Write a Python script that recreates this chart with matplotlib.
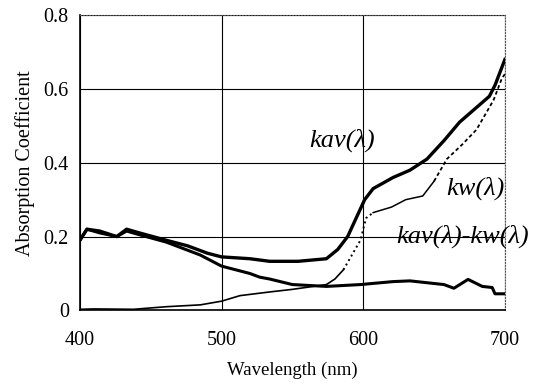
import numpy as np
import matplotlib.pyplot as plt

# wavelength (nm) and absorption values
wl_kav = [400, 405, 414, 426, 433, 442, 461, 476, 490, 500, 520, 534, 554, 574, 582,
          589, 595, 601, 607, 614, 621, 633, 645, 657, 668, 680, 689, 693, 696, 700]
kav = [0.19, 0.22, 0.215, 0.20, 0.22, 0.21, 0.19, 0.175, 0.155, 0.145, 0.14, 0.133,
       0.133, 0.14, 0.165, 0.20, 0.25, 0.30, 0.33, 0.345, 0.36, 0.38, 0.41, 0.46,
       0.51, 0.55, 0.58, 0.61, 0.64, 0.68]

wl_kw = [400, 410, 438, 461, 485, 500, 513, 534, 550, 574, 580, 586, 592, 598, 602,
         607, 620, 630, 642, 650, 659, 670, 680, 692, 698, 700]
kw = [0.003, 0.004, 0.003, 0.01, 0.015, 0.025, 0.04, 0.05, 0.057, 0.07, 0.085, 0.11,
      0.15, 0.19, 0.25, 0.265, 0.28, 0.30, 0.31, 0.35, 0.41, 0.45, 0.49, 0.57, 0.63, 0.64]

wl_diff = [400, 405, 414, 426, 433, 442, 461, 485, 500, 520, 527, 534, 550, 574, 598,
           621, 633, 645, 657, 664, 674, 684, 691, 693, 700]
diff = [0.19, 0.22, 0.21, 0.20, 0.215, 0.205, 0.185, 0.15, 0.12, 0.10, 0.09, 0.085,
        0.07, 0.065, 0.07, 0.078, 0.08, 0.075, 0.07, 0.06, 0.084, 0.065, 0.062, 0.045, 0.045]

serif = ['Liberation Serif', 'DejaVu Serif']

fig = plt.figure(figsize=(5.36, 3.88), dpi=100)
ax = fig.add_axes([0.149, 0.2, 0.793, 0.761])

ax.plot(wl_kav, kav, color='black', lw=2.4)
ax.plot(wl_diff, diff, color='black', lw=2.2)
# kw: thin line, dotted where it climbs steeply
wk = np.array(wl_kw)
kk = np.array(kw)
m1 = wk <= 586
m2 = (wk >= 586) & (wk <= 607)
m3 = (wk >= 607) & (wk <= 650)
m4 = wk >= 650
ax.plot(wk[m1], kk[m1], color='black', lw=1.2)
ax.plot(wk[m2], kk[m2], color='black', lw=1.4, ls=':')
ax.plot(wk[m3], kk[m3], color='black', lw=1.1)
ax.plot(wk[m4], kk[m4], color='black', lw=1.3, ls=(0, (2, 1.5)))

ax.set_xlim(400, 700)
ax.set_ylim(0, 0.8)
ax.set_xticks([400, 500, 600, 700])
ax.set_yticks([0, 0.2, 0.4, 0.6, 0.8])
ax.set_yticklabels(['0', '0.2', '0.4', '0.6', '0.8'])
ax.grid(True, color='black', lw=0.8)
ax.set_axisbelow(True)
ax.tick_params(length=0, labelsize=14.5)
ax.tick_params(axis='x', pad=15)
ax.tick_params(axis='y', pad=8)
for lab in ax.get_xticklabels() + ax.get_yticklabels():
    lab.set_family(serif)

for s in ['left', 'bottom']:
    ax.spines[s].set_linewidth(1.2)
for s in ['top', 'right']:
    ax.spines[s].set_linestyle(':')
    ax.spines[s].set_color('#555555')

ax.set_xlabel('Wavelength (nm)', family=serif, fontsize=13.5, labelpad=8)
ax.set_ylabel('Absorption Coefficient', family=serif, fontsize=14.5, labelpad=6)

ax.text(608, 0.46, 'kav(λ)', family=serif, style='italic', fontsize=19, ha='right', va='center')
ax.text(700, 0.33, 'kw(λ)', family=serif, style='italic', fontsize=19, ha='right', va='center')
ax.text(717, 0.20, 'kav(λ)-kw(λ)', family=serif, style='italic', fontsize=19, ha='right',
        va='center', clip_on=False)

fig.savefig('out.png', dpi=100)
